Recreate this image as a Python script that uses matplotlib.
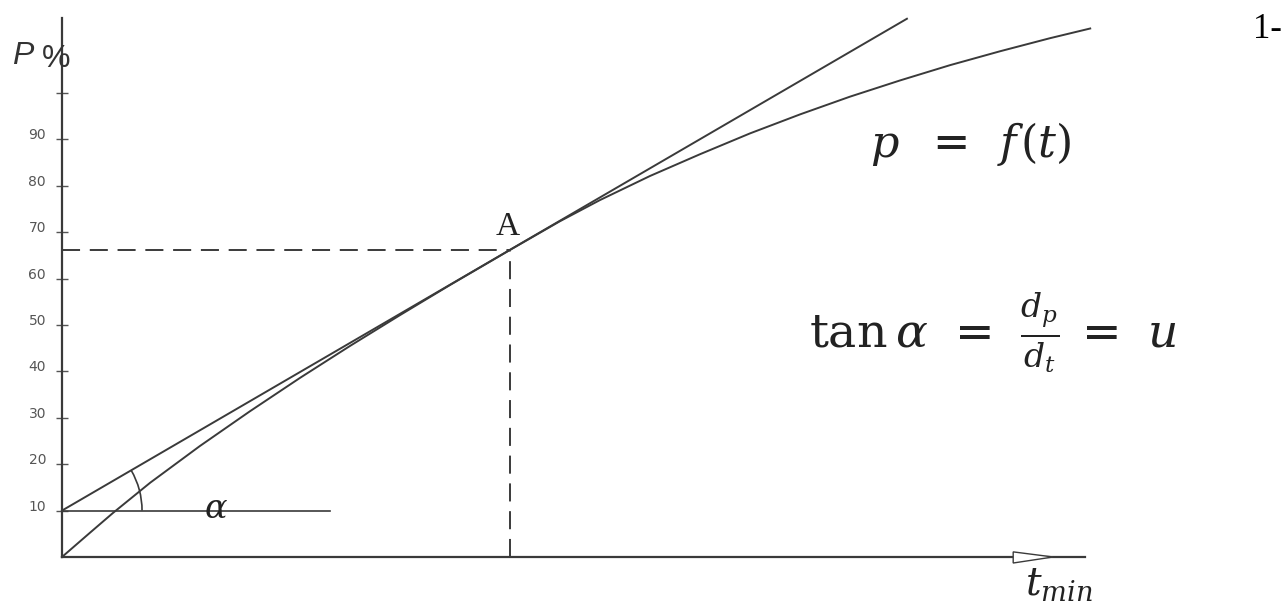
import numpy as np
import matplotlib
matplotlib.use("Agg")
import matplotlib.pyplot as plt
from matplotlib.patches import Arc, Polygon

plt.rcParams['mathtext.fontset'] = 'dejavuserif'
plt.rcParams['lines.scale_dashes'] = False

# values (t in arbitrary units, P in %)
y_ticks = [10, 20, 30, 40, 50, 60, 70, 80, 90, 100]
y_tick_labels = ['10', '20', '30', '40', '50', '60', '70', '80', '90', '']

curve_t = [0, 6.0, 11.0, 19.0, 29.7, 40.5, 51.3, 62.1, 72.8, 83.6, 96.6,
           107.3, 115.9, 126.7, 137.5, 148.3, 159.1, 169.8, 180.6, 191.4,
           202.2, 212.9, 221.6]
curve_p = [0, 5.2, 9.5, 16.0, 23.9, 31.4, 38.6, 45.5, 52.1, 58.6, 66.2,
           72.35, 76.9, 82.1, 86.8, 91.3, 95.4, 99.2, 102.7, 106.0,
           109.0, 111.8, 113.9]

tangent_t = [0, 182.1]
tangent_p = [10, 116.0]

A_t, A_p = 96.6, 66.2
base_p = 10
base_t_end = 57.8
axis_t_end = 220.5
axis_p_end = 116.2

line_col = '#3a3a3a'
text_col = '#222222'

fig = plt.figure(figsize=(12.85, 6.07), dpi=100)
ax = fig.add_axes([0, 0, 1, 1])
ax.set_xlim(-13.36, 263.58)
ax.set_ylim(-10.78, 120.04)

# axes through the origin
for s in ['top', 'right']:
    ax.spines[s].set_visible(False)
ax.spines['left'].set_position(('data', 0))
ax.spines['bottom'].set_position(('data', 0))
ax.spines['left'].set_bounds(0, axis_p_end)
ax.spines['bottom'].set_bounds(0, axis_t_end)
for s in ['left', 'bottom']:
    ax.spines[s].set_color(line_col)
    ax.spines[s].set_linewidth(1.6)

ax.set_xticks([])
ax.set_yticks(y_ticks)
ax.set_yticklabels(y_tick_labels)
ax.tick_params(axis='y', direction='inout', length=9, width=1, color='#555555',
               pad=7, labelsize=10, labelcolor='#555555')
for lab in ax.get_yticklabels():
    lab.set_verticalalignment('baseline')

# hollow arrow head on the t axis
ax.add_patch(Polygon([(205, 1.1), (213.6, 0), (205, -1.3)], closed=True,
                     facecolor='white', edgecolor=line_col, lw=1.0, zorder=3))

# curve and tangent
ax.plot(curve_t, curve_p, color=line_col, lw=1.4)
ax.plot(tangent_t, tangent_p, color=line_col, lw=1.4)

# reference lines to point A
ax.plot([0, A_t], [A_p, A_p], color=line_col, lw=1.4, dashes=(13, 7))
ax.plot([A_t, A_t], [0, A_p], color=line_col, lw=1.4, dashes=(13, 7))

# horizontal base line and angle arc
ax.plot([0, base_t_end], [base_p, base_p], color=line_col, lw=1.2)
slope = (tangent_p[1] - tangent_p[0]) / (tangent_t[1] - tangent_t[0])
alpha_deg = np.degrees(np.arctan(slope))
ax.add_patch(Arc((0, base_p), 34.5, 34.5, theta1=0, theta2=alpha_deg,
                 color=line_col, lw=1.2))

# labels
ax.text(33.2, base_p + 0.4, r'$\alpha$', fontsize=24, ha='center', va='center',
        color=text_col)
ax.text(A_t - 0.5, 69.4, 'A', family='Liberation Serif', fontsize=24,
        ha='center', va='baseline', color=text_col)
ax.text(-10.8, 106.2, 'P', family='Liberation Sans', style='italic', fontsize=23,
        ha='left', va='baseline', color='#333333')
ax.text(-4.4, 105.6, '%', family='Liberation Sans', fontsize=23,
        ha='left', va='baseline', color='#333333')
ax.text(263.0, 111.8, '1-', family='Liberation Serif', fontsize=25,
        ha='right', va='baseline', color='black')
ax.text(195.9, 89.0, r'$p\hspace{0.6}=\hspace{0.5}f\hspace{0.12}(t)$',
        fontsize=32, ha='center', va='center', color=text_col)
ax.text(200.7, 48.5,
        r'$\mathrm{tan}\hspace{0.2}\alpha\hspace{0.4}=\hspace{0.4}\frac{d_p}{d_t}\hspace{0.2}=\hspace{0.4}u$',
        fontsize=34, ha='center', va='center', color=text_col)
ax.text(214.9, -5.8, r'$t_{min}$', fontsize=28, ha='center', va='center',
        color=text_col)

fig.savefig('out.png', dpi=100)
